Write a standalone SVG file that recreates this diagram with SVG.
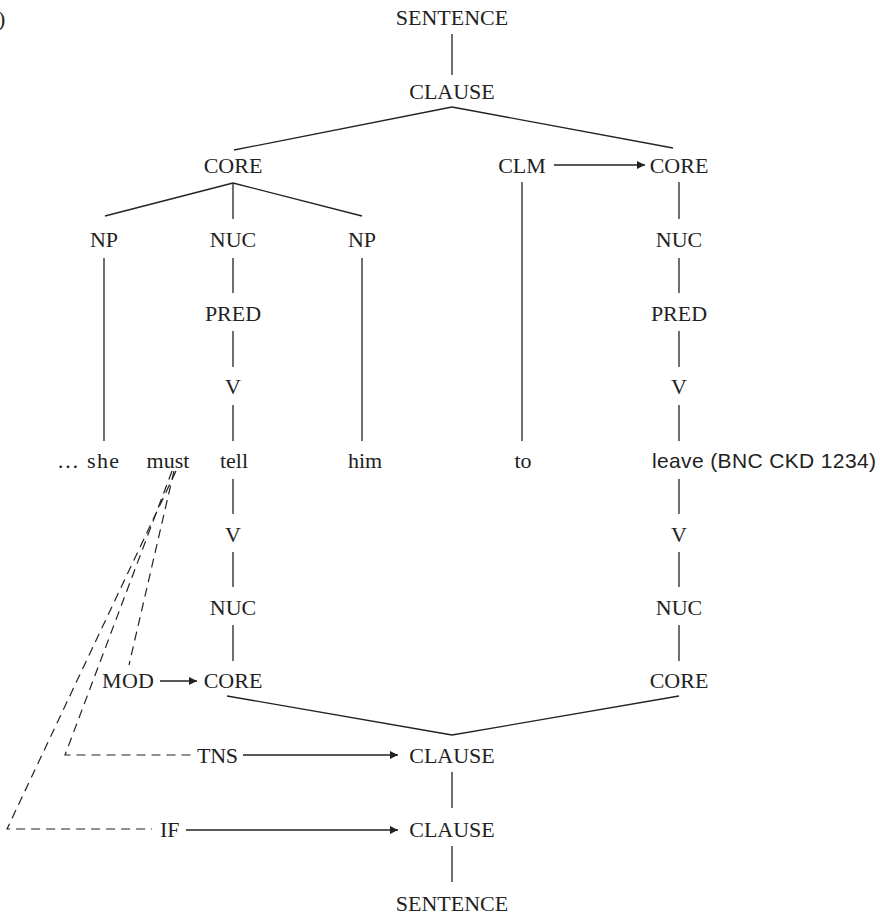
<svg xmlns="http://www.w3.org/2000/svg" width="880" height="916" viewBox="0 0 880 916">
  <style>
    text { font-family: "Liberation Serif", "Times New Roman", serif; font-size: 22px; fill: #222; }
    .c { text-anchor: middle; }
    .sans { font-family: "Liberation Sans", Arial, sans-serif; font-size: 21px; }
    .ln { stroke: #222; stroke-width: 1.3; fill: none; }
    .dash { stroke: #222; stroke-width: 1.2; fill: none; stroke-dasharray: 9 6; }
  </style>
  <defs>
    <marker id="arr" viewBox="0 0 10 10" refX="10" refY="5" markerWidth="10" markerHeight="8" markerUnits="userSpaceOnUse" orient="auto">
      <path d="M0,0 L10,5 L0,10 z" fill="#222"/>
    </marker>
  </defs>
  <rect width="880" height="916" fill="#fff"/>

  <text x="-2" y="26">)</text>

  <!-- connectors -->
  <g id="connectors">
    <!-- upper tree -->
    <line class="ln" x1="452" y1="34" x2="452" y2="75"/>
    <line class="ln" x1="452" y1="107" x2="234" y2="150"/>
    <line class="ln" x1="452" y1="107" x2="673" y2="148"/>
    <line class="ln" x1="554" y1="165" x2="645" y2="165" marker-end="url(#arr)"/>
    <line class="ln" x1="233" y1="183" x2="105" y2="216"/>
    <line class="ln" x1="233" y1="183" x2="233" y2="219"/>
    <line class="ln" x1="233" y1="183" x2="362" y2="216"/>
    <line class="ln" x1="522" y1="182" x2="522" y2="441"/>
    <line class="ln" x1="679" y1="182" x2="679" y2="219"/>
    <line class="ln" x1="104" y1="258" x2="104" y2="441"/>
    <line class="ln" x1="233" y1="258" x2="233" y2="293"/>
    <line class="ln" x1="362" y1="258" x2="362" y2="441"/>
    <line class="ln" x1="679" y1="258" x2="679" y2="293"/>
    <line class="ln" x1="233" y1="331" x2="233" y2="367"/>
    <line class="ln" x1="679" y1="331" x2="679" y2="367"/>
    <line class="ln" x1="233" y1="405" x2="233" y2="441"/>
    <line class="ln" x1="679" y1="405" x2="679" y2="441"/>
    <!-- lower tree -->
    <line class="ln" x1="233" y1="479" x2="233" y2="514"/>
    <line class="ln" x1="679" y1="479" x2="679" y2="514"/>
    <line class="ln" x1="233" y1="552" x2="233" y2="587"/>
    <line class="ln" x1="679" y1="552" x2="679" y2="587"/>
    <line class="ln" x1="233" y1="625" x2="233" y2="661"/>
    <line class="ln" x1="679" y1="625" x2="679" y2="661"/>
    <line class="ln" x1="227" y1="696" x2="452" y2="735"/>
    <line class="ln" x1="679" y1="696" x2="452" y2="735"/>
    <line class="ln" x1="160" y1="681" x2="197" y2="681" marker-end="url(#arr)"/>
    <line class="ln" x1="243" y1="755" x2="398" y2="755" marker-end="url(#arr)"/>
    <line class="ln" x1="186" y1="830" x2="398" y2="830" marker-end="url(#arr)"/>
    <line class="ln" x1="452" y1="772" x2="452" y2="808"/>
    <line class="ln" x1="452" y1="846" x2="452" y2="882"/>
    <!-- operator scope lines from "must" -->
    <polyline class="dash" points="174,471 129,665"/>
    <polyline class="dash" points="172,471 65,755 192,755"/>
    <polyline class="dash" points="176,471 7,829 152,829"/>
  </g>

  <!-- nodes -->
  <g id="n-sentence-top"><text class="c" x="452" y="25">SENTENCE</text></g>
  <g id="n-clause-top"><text class="c" x="452" y="99">CLAUSE</text></g>
  <g id="n-core1"><text class="c" x="233" y="173">CORE</text></g>
  <g id="n-clm"><text class="c" x="522" y="173">CLM</text></g>
  <g id="n-core2"><text class="c" x="679" y="173">CORE</text></g>
  <g id="n-np1"><text class="c" x="104" y="247">NP</text></g>
  <g id="n-nuc1"><text class="c" x="233" y="247">NUC</text></g>
  <g id="n-np2"><text class="c" x="362" y="247">NP</text></g>
  <g id="n-nuc2"><text class="c" x="679" y="247">NUC</text></g>
  <g id="n-pred1"><text class="c" x="233" y="321">PRED</text></g>
  <g id="n-pred2"><text class="c" x="679" y="321">PRED</text></g>
  <g id="n-v1"><text class="c" x="233" y="394">V</text></g>
  <g id="n-v2"><text class="c" x="679" y="394">V</text></g>

  <g id="w-she"><text x="57" y="468" textLength="62">… she</text></g>
  <g id="w-must"><text class="c" x="168" y="468">must</text></g>
  <g id="w-tell"><text class="c" x="234" y="468">tell</text></g>
  <g id="w-him"><text class="c" x="365" y="468">him</text></g>
  <g id="w-to"><text class="c" x="523" y="468">to</text></g>
  <g id="w-leave"><text class="sans" x="652" y="468" textLength="224">leave (BNC CKD 1234)</text></g>

  <g id="o-v1"><text class="c" x="233" y="542">V</text></g>
  <g id="o-v2"><text class="c" x="679" y="542">V</text></g>
  <g id="o-nuc1"><text class="c" x="233" y="615">NUC</text></g>
  <g id="o-nuc2"><text class="c" x="679" y="615">NUC</text></g>
  <g id="o-mod"><text x="102" y="688" textLength="52">MOD</text></g>
  <g id="o-core1"><text class="c" x="233" y="688">CORE</text></g>
  <g id="o-core2"><text class="c" x="679" y="688">CORE</text></g>
  <g id="o-tns"><text x="197" y="763" textLength="41">TNS</text></g>
  <g id="o-clause1"><text class="c" x="452" y="763">CLAUSE</text></g>
  <g id="o-if"><text x="160" y="837">IF</text></g>
  <g id="o-clause2"><text class="c" x="452" y="837">CLAUSE</text></g>
  <g id="o-sentence"><text class="c" x="452" y="911">SENTENCE</text></g>
</svg>
